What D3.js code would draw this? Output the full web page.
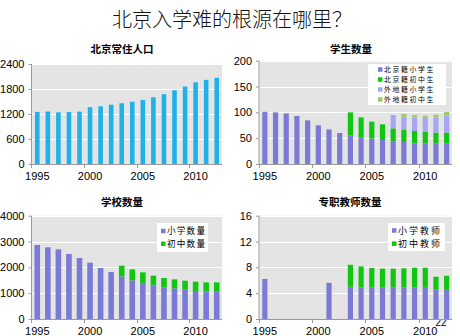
<!DOCTYPE html>
<html><head><meta charset="utf-8">
<script src="https://cdn.jsdelivr.net/npm/d3@7"></script>
<style>
body{margin:0;background:#fff;}
svg{display:block;}
</style></head>
<body>
<svg id="c" width="460" height="336"></svg>
<script>
const years = ["1995","1996","1997","1998","1999","2000","2001","2002","2003","2004","2005","2006","2007","2008","2009","2010","2011","2012"];
const yearTicks = ["1995","2000","2005","2010"];

const population = [1251,1259,1240,1246,1257,1364,1385,1423,1456,1493,1538,1601,1676,1771,1860,1962,2019,2069];

const bjPrimaryStudents = [101,100,98,93,84.5,75,67,60,55,51.6,49.6,46.5,43,42.6,40,39.4,39.4,39.4];
const bjJuniorStudents  = [0,0,0,0,0,0,0,0,45,38.7,32.4,30.3,26,24.4,23.9,22.6,21.3,21.3];
const nlPrimaryStudents = [0,0,0,0,0,0,0,0,0,0,0,0,26,24.6,26.4,27,29.6,32.8];
const nlJuniorStudents  = [0,0,0,0,0,0,0,0,0,0,0,0,0,5.2,4.7,4.5,5.2,7.2];

const primarySchools = [2864,2774,2697,2516,2361,2180,1974,1819,1651,1497,1393,1290,1213,1187,1135,1084,1071,1058];
const juniorSchools  = [0,0,0,0,0,0,0,0,413,425,413,387,374,348,349,361,348,361];

const primaryTeachers = [6.2,0,0,0,0,0,5.6,0,5.0,4.9,4.85,4.85,4.85,4.9,4.9,4.95,4.55,4.65];
const juniorTeachers  = [0,0,0,0,0,0,0,0,3.4,3.25,3.05,2.95,2.95,2.95,3.05,3.0,2.0,2.05];

const mainTitle = "北京入学难的根源在哪里？";

const C = {blue:"#1fb1e9", purple:"#7b7bd5", green:"#11c611", lpurple:"#a6a6f4", lgreen:"#9ccc66"};

const svg = d3.select("#c");

svg.append("text").attr("x",441).attr("y",326).attr("text-anchor","middle")
  .attr("font-family","Liberation Sans, Arial").attr("font-size",10).attr("fill","#000").text("22");

svg.append("text").attr("x",232).attr("y",27).attr("text-anchor","middle")
  .attr("font-family","Noto Sans CJK SC").attr("font-size",20).attr("fill","#111")
  .attr("font-weight",300).text(mainTitle);

function panel(cfg){
  const g = svg.append("g");
  const x = d3.scaleBand().domain(years).range([cfg.x0,cfg.x1]).padding(0);
  const y = d3.scaleLinear().domain([0,cfg.max]).range([cfg.y0,cfg.y1]);
  const step = x.step();
  const bw = cfg.bw;

  g.append("rect").attr("x",cfg.x0).attr("y",cfg.y1).attr("width",cfg.x1-cfg.x0).attr("height",cfg.y0-cfg.y1)
    .attr("fill","#e4e4e4");
  g.selectAll(".grid").data(cfg.ticks.filter(t=>t>0)).enter().append("line")
    .attr("x1",cfg.x0).attr("x2",cfg.x1).attr("y1",d=>Math.round(y(d))+0.5).attr("y2",d=>Math.round(y(d))+0.5)
    .attr("stroke","#fff").attr("stroke-width",1);

  let base = years.map(()=>0);
  cfg.series.forEach(s=>{
    const b0 = base.slice();
    g.selectAll(null).data(years.map((yr,i)=>({yr,i,v:s.values[i]})).filter(d=>d.v>0)).enter().append("rect")
      .attr("x",d=>x(d.yr)+(step-bw)/2).attr("width",bw)
      .attr("y",d=>y(b0[d.i]+d.v)).attr("height",d=>y(b0[d.i])-y(b0[d.i]+d.v))
      .attr("fill",s.color);
    base = base.map((v,i)=>v+s.values[i]);
  });

  g.append("line").attr("x1",cfg.x0-0.5).attr("x2",cfg.x0-0.5).attr("y1",cfg.y1).attr("y2",cfg.y0)
    .attr("stroke","#9a9a9a");
  g.append("line").attr("x1",cfg.x0-0.5).attr("x2",cfg.x1).attr("y1",cfg.y0+0.5).attr("y2",cfg.y0+0.5)
    .attr("stroke","#9a9a9a");

  const yAxis = d3.axisLeft(y).tickValues(cfg.ticks).tickFormat(d3.format("d")).tickSize(3).tickPadding(4);
  const ya = g.append("g").attr("transform",`translate(${cfg.x0-0.5},0)`).call(yAxis);
  ya.select(".domain").remove();
  ya.selectAll("line").attr("stroke","#9a9a9a");
  ya.selectAll("text").attr("font-family","Liberation Sans, Arial").attr("font-size",11).attr("fill","#000");

  g.selectAll(null).data(yearTicks).enter().append("line")
    .attr("x1",d=>Math.round(x(d))-0.5).attr("x2",d=>Math.round(x(d))-0.5)
    .attr("y1",cfg.y0).attr("y2",cfg.y0+4).attr("stroke","#9a9a9a");
  g.selectAll(null).data(yearTicks).enter().append("text")
    .attr("x",d=>x(d)+step/2).attr("y",cfg.y0+16).attr("text-anchor","middle")
    .attr("font-family","Liberation Sans, Arial").attr("font-size",11).attr("fill","#000").text(d=>d);

  g.append("text").attr("x",cfg.tx).attr("y",cfg.ty).attr("text-anchor","middle")
    .attr("font-family","Noto Sans CJK SC").attr("font-weight","bold").attr("font-size",10.5)
    .attr("fill","#000").text(cfg.title);

  if(cfg.legend){
    const L = cfg.legend;
    g.append("rect").attr("x",L.x).attr("y",L.y).attr("width",L.w).attr("height",L.h).attr("fill","#fff");
    cfg.series.forEach((s,i)=>{
      const yy = L.y + L.first + i*L.gap;
      g.append("rect").attr("x",L.x+L.mx).attr("y",yy-L.ms/2).attr("width",L.ms).attr("height",L.ms).attr("fill",s.color);
      g.append("text").attr("x",L.x+L.mx+L.ms+1.5).attr("y",yy).attr("dy","0.36em")
        .attr("font-family","Noto Sans CJK SC").attr("font-size",L.fs).attr("letter-spacing",L.ls)
        .attr("fill","#000").text(s.name);
    });
  }
}

panel({x0:32,x1:222,y0:164,y1:64,max:2400,ticks:[0,600,1200,1800,2400],bw:4.6,
  title:"北京常住人口",tx:122,ty:53,
  series:[{name:"常住人口",values:population,color:C.blue}]});

panel({x0:259.5,x1:452,y0:164,y1:60.7,max:200,ticks:[0,50,100,150,200],bw:5.2,
  title:"学生数量",tx:351,ty:53,
  series:[{name:"北京籍小学生",values:bjPrimaryStudents,color:C.purple},
          {name:"北京籍初中生",values:bjJuniorStudents,color:C.green},
          {name:"外地籍小学生",values:nlPrimaryStudents,color:C.lpurple},
          {name:"外地籍初中生",values:nlJuniorStudents,color:C.lgreen}],
  legend:{x:368,y:64,w:78,h:41,first:5.5,gap:10,mx:10,ms:4.5,fs:6.9,ls:1.6}});

panel({x0:32,x1:222,y0:319,y1:215.7,max:4000,ticks:[0,1000,2000,3000,4000],bw:5.6,
  title:"学校数量",tx:122,ty:206,
  series:[{name:"小学数量",values:primarySchools,color:C.purple},
          {name:"初中数量",values:juniorSchools,color:C.green}],
  legend:{x:157,y:223,w:51,h:29,first:8,gap:12.8,mx:4,ms:4.5,fs:8.6,ls:1.2}});

panel({x0:259.5,x1:452,y0:319,y1:215.7,max:16,ticks:[0,4,8,12,16],bw:5.2,
  title:"专职教师数量",tx:350,ty:206,
  series:[{name:"小学教师",values:primaryTeachers,color:C.purple},
          {name:"初中教师",values:juniorTeachers,color:C.green}],
  legend:{x:388,y:223,w:57,h:28,first:7.5,gap:13.2,mx:4,ms:4.5,fs:9,ls:2}});
</script>
</body></html>
